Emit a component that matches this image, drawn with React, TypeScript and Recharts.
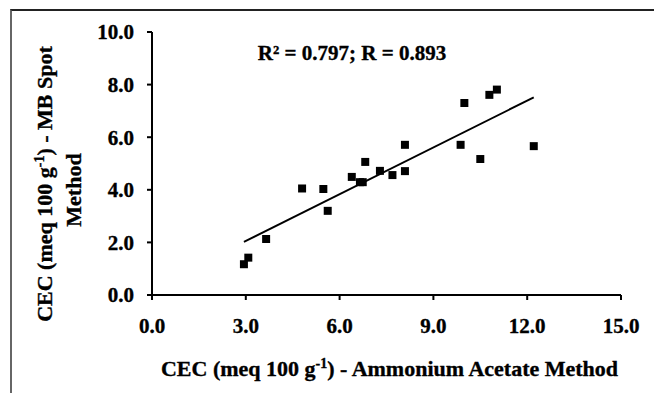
import React from 'react';
import { ScatterChart, Scatter, XAxis, YAxis, Customized } from 'recharts';

const ammoniumAcetate = [2.94, 3.08, 3.65, 4.8, 5.48, 5.62, 6.39, 6.65, 6.74, 6.82, 7.29, 7.69, 8.09, 8.09, 9.87, 9.99, 10.5, 10.79, 11.03, 12.21];
const mbSpot = [1.17, 1.42, 2.13, 4.05, 4.03, 3.2, 4.49, 4.29, 4.29, 5.06, 4.72, 4.56, 5.71, 4.71, 5.71, 7.3, 5.17, 7.61, 7.81, 5.66];
const xTicks = [0, 3, 6, 9, 12, 15];
const yTicks = [0, 2, 4, 6, 8, 10];
const statsLabel = 'R² = 0.797; R = 0.893';

const points = ammoniumAcetate.map((x, i) => ({ x, y: mbSpot[i] }));

// least squares trend line
const n = points.length;
const mx = ammoniumAcetate.reduce((a, b) => a + b, 0) / n;
const my = mbSpot.reduce((a, b) => a + b, 0) / n;
let sxy = 0;
let sxx = 0;
points.forEach((p) => {
  sxy += (p.x - mx) * (p.y - my);
  sxx += (p.x - mx) * (p.x - mx);
});
const slope = sxy / sxx;
const intercept = my - slope * mx;
const xMin = Math.min(...ammoniumAcetate);
const xMax = Math.max(...ammoniumAcetate);
const trend = [
  { x: xMin, y: intercept + slope * xMin },
  { x: xMax, y: intercept + slope * xMax },
];

const FONT = '"Liberation Serif", "Times New Roman", serif';
const TICK_SIZE = 21;
const LABEL_SIZE = 22;
const HEAVY = { stroke: '#000', strokeWidth: 0.35 };

const XLabel = (props: any) => {
  const vb = props.viewBox;
  const cx = vb.x + vb.width / 2;
  const y = 376;
  return (
    <text x={cx + 3} y={y} textAnchor="middle" fontFamily={FONT} fontWeight="bold" fontSize={LABEL_SIZE} fill="#000" {...HEAVY}>
      <tspan>CEC (meq 100 g</tspan>
      <tspan dy={-8} fontSize={14}>-1</tspan>
      <tspan dy={8}>) - Ammonium Acetate Method</tspan>
    </text>
  );
};

const YLabel = () => {
  const cy = 184;
  return (
    <g>
      <text
        x={52}
        y={cy}
        transform={`rotate(-90 52 ${cy})`}
        textAnchor="middle"
        fontFamily={FONT}
        fontWeight="bold"
        fontSize={LABEL_SIZE}
        fill="#000"
        {...HEAVY}
      >
        <tspan>CEC (meq 100 g</tspan>
        <tspan dy={-8} fontSize={14}>-1</tspan>
        <tspan dy={8}>) - MB Spot</tspan>
      </text>
      <text
        x={81}
        y={cy + 6}
        transform={`rotate(-90 81 ${cy + 6})`}
        textAnchor="middle"
        fontFamily={FONT}
        fontWeight="bold"
        fontSize={LABEL_SIZE}
        fill="#000"
        {...HEAVY}
      >
        Method
      </text>
    </g>
  );
};

const Stats = () => (
  <text x={352} y={60} textAnchor="middle" fontFamily={FONT} fontWeight="bold" fontSize={21} fill="#000" {...HEAVY}>
    {statsLabel}
  </text>
);

const tickStyle = { fill: '#000', fontFamily: FONT, fontWeight: 'bold', fontSize: TICK_SIZE, stroke: '#000', strokeWidth: 0.35 };

export default function App() {
  return (
    <div style={{ position: 'absolute', left: 0, top: 0, width: 654, height: 393, background: '#fff', overflow: 'hidden' }}>
      <div
        style={{
          position: 'absolute',
          left: 10,
          top: 9,
          width: 660,
          height: 400,
          borderTop: '2px solid #222',
          borderLeft: '2px solid #666',
          boxSizing: 'border-box',
        }}
      />
      <ScatterChart width={654} height={393} margin={{ top: 32, right: 33, bottom: 0, left: 0 }}>
        <XAxis
          type="number"
          dataKey="x"
          domain={[0, 15]}
          ticks={xTicks}
          interval={0}
          tickFormatter={(v: number) => v.toFixed(1)}
          height={98}
          axisLine={{ stroke: '#000', strokeWidth: 2 }}
          tickLine={{ stroke: '#000', strokeWidth: 2 }}
          tickSize={5}
          tickMargin={18}
          tick={tickStyle}
          label={{ content: XLabel }}
        />
        <YAxis
          type="number"
          dataKey="y"
          domain={[0, 10]}
          ticks={yTicks}
          interval={0}
          tickFormatter={(v: number) => v.toFixed(1)}
          width={152}
          axisLine={{ stroke: '#000', strokeWidth: 2 }}
          tickLine={{ stroke: '#000', strokeWidth: 2 }}
          tickSize={5}
          tickMargin={13}
          tick={tickStyle}
          label={{ content: YLabel }}
        />
        <Scatter
          data={trend}
          line={{ stroke: '#000', strokeWidth: 2 }}
          shape={() => null}
          isAnimationActive={false}
        />
        <Scatter data={points} fill="#000" shape="square" isAnimationActive={false} />
        <Customized component={Stats} />
      </ScatterChart>
    </div>
  );
}
